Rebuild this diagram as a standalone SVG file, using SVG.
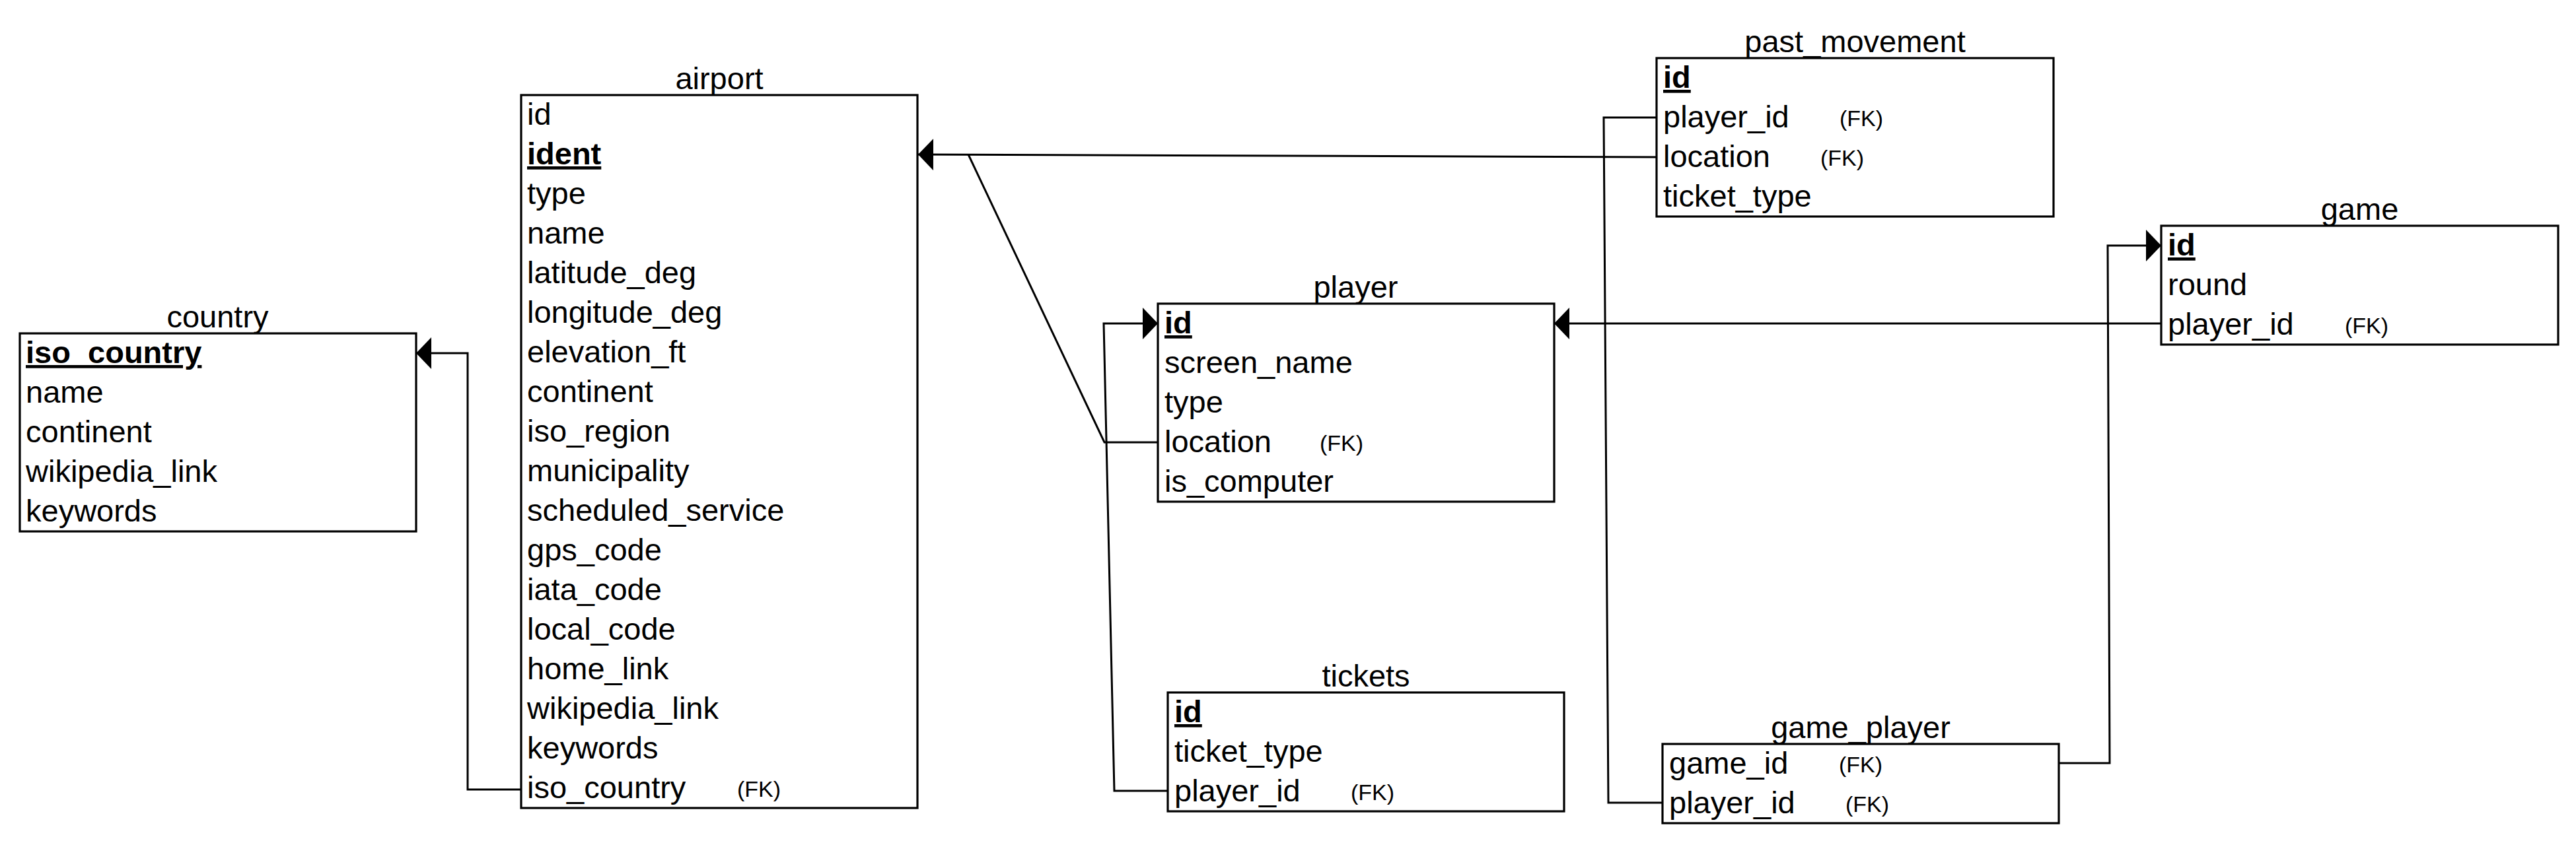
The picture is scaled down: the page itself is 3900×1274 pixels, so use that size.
<svg xmlns="http://www.w3.org/2000/svg" width="3900" height="1274" viewBox="0 0 3900 1274">
<style>
text{font-family:"Liberation Sans",Arial,Helvetica,sans-serif;fill:#000}
.t{font-size:47px;text-anchor:middle}
.r{font-size:47px}
.pk{font-size:47px;font-weight:bold;text-decoration:underline}
.fk{font-size:34px}
.box{fill:#fff;stroke:#000;stroke-width:3.2}
.c{fill:none;stroke:#000;stroke-width:3}
</style>
<defs>
<marker id="ah" markerUnits="userSpaceOnUse" markerWidth="26" markerHeight="50" refX="23" refY="24" orient="auto" viewBox="0 0 26 50">
<path d="M0,0 L23,24 L0,48 Z" fill="#000"/>
</marker>
</defs>
<rect width="3900" height="1274" fill="#fff"/>

<g id="connectors">
<path class="c" d="M789,1196 L708,1196 L708,535 L630,535" marker-end="url(#ah)"/>
<path class="c" d="M2508,238 L1390,234" marker-end="url(#ah)"/>
<path class="c" d="M1753,670 L1672,670 L1466,234"/>
<path class="c" d="M1768,1198 L1687,1198 L1671,490 L1753,490" marker-end="url(#ah)"/>
<path class="c" d="M3272,490 L2353,490" marker-end="url(#ah)"/>
<path class="c" d="M3117,1156 L3194,1156 L3191,372 L3272,372" marker-end="url(#ah)"/>
<path class="c" d="M2508,178 L2428,178 L2435,1216 L2517,1216"/>
</g>

<g id="country">
<text class="t" x="329.5" y="496">country</text>
<rect class="box" x="30" y="505" width="600" height="300"/>
<text class="pk" x="39" y="550">iso_country</text>
<text class="r" x="39" y="610">name</text>
<text class="r" x="39" y="670">continent</text>
<text class="r" x="39" y="730">wikipedia_link</text>
<text class="r" x="39" y="790">keywords</text>
</g>

<g id="airport">
<text class="t" x="1089" y="135">airport</text>
<rect class="box" x="789" y="144" width="600" height="1080"/>
<text class="r" x="798" y="189">id</text>
<text class="pk" x="798" y="249">ident</text>
<text class="r" x="798" y="309">type</text>
<text class="r" x="798" y="369">name</text>
<text class="r" x="798" y="429">latitude_deg</text>
<text class="r" x="798" y="489">longitude_deg</text>
<text class="r" x="798" y="549">elevation_ft</text>
<text class="r" x="798" y="609">continent</text>
<text class="r" x="798" y="669">iso_region</text>
<text class="r" x="798" y="729">municipality</text>
<text class="r" x="798" y="789">scheduled_service</text>
<text class="r" x="798" y="849">gps_code</text>
<text class="r" x="798" y="909">iata_code</text>
<text class="r" x="798" y="969">local_code</text>
<text class="r" x="798" y="1029">home_link</text>
<text class="r" x="798" y="1089">wikipedia_link</text>
<text class="r" x="798" y="1149">keywords</text>
<text class="r" x="798" y="1209">iso_country</text>
<text class="fk" x="1116" y="1207">(FK)</text>
</g>

<g id="past_movement">
<text class="t" x="2808.5" y="79">past_movement</text>
<rect class="box" x="2508" y="88" width="601" height="240"/>
<text class="pk" x="2518" y="133">id</text>
<text class="r" x="2518" y="193">player_id</text>
<text class="fk" x="2785" y="191">(FK)</text>
<text class="r" x="2518" y="253">location</text>
<text class="fk" x="2756" y="251">(FK)</text>
<text class="r" x="2518" y="313">ticket_type</text>
</g>

<g id="game">
<text class="t" x="3572.5" y="333">game</text>
<rect class="box" x="3272" y="342" width="601" height="180"/>
<text class="pk" x="3282" y="387">id</text>
<text class="r" x="3282" y="447">round</text>
<text class="r" x="3282" y="507">player_id</text>
<text class="fk" x="3550" y="505">(FK)</text>
</g>

<g id="player">
<text class="t" x="2052.5" y="451">player</text>
<rect class="box" x="1753" y="460" width="600" height="300"/>
<text class="pk" x="1763" y="505">id</text>
<text class="r" x="1763" y="565">screen_name</text>
<text class="r" x="1763" y="625">type</text>
<text class="r" x="1763" y="685">location</text>
<text class="fk" x="1998" y="683">(FK)</text>
<text class="r" x="1763" y="745">is_computer</text>
</g>

<g id="tickets">
<text class="t" x="2068" y="1040">tickets</text>
<rect class="box" x="1768" y="1049" width="600" height="180"/>
<text class="pk" x="1778" y="1094">id</text>
<text class="r" x="1778" y="1154">ticket_type</text>
<text class="r" x="1778" y="1214">player_id</text>
<text class="fk" x="2045" y="1212">(FK)</text>
</g>

<g id="game_player">
<text class="t" x="2817" y="1118">game_player</text>
<rect class="box" x="2517" y="1127" width="600" height="120"/>
<text class="r" x="2527" y="1172">game_id</text>
<text class="fk" x="2784" y="1170">(FK)</text>
<text class="r" x="2527" y="1232">player_id</text>
<text class="fk" x="2794" y="1230">(FK)</text>
</g>
</svg>
